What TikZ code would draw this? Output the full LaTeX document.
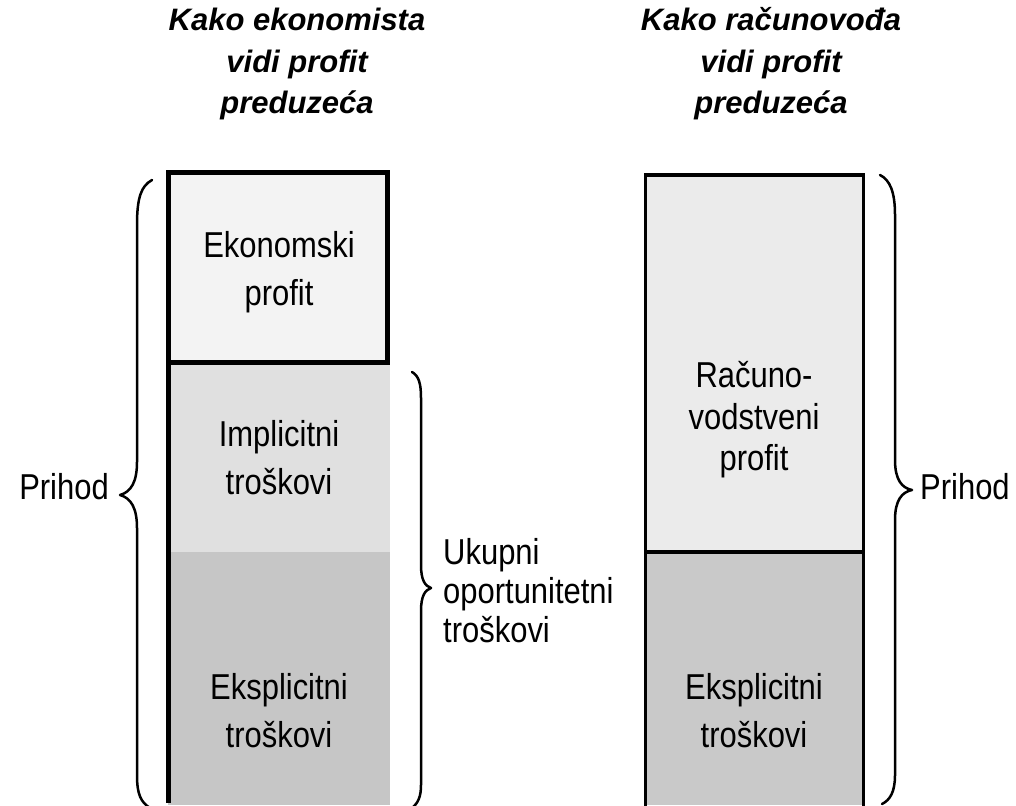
\documentclass[tikz,border=0pt]{standalone}
\usepackage{fontspec}
\setmainfont{Liberation Sans}
\newfontfamily\condf[FakeStretch=0.86]{Liberation Sans}
\definecolor{ekfill}{HTML}{F3F3F3}
\definecolor{imfill}{HTML}{E0E0E0}
\definecolor{exfill}{HTML}{C6C6C6}
\definecolor{rafill}{HTML}{EBEBEB}
\definecolor{rxfill}{HTML}{C9C9C9}
\tikzset{
  titletext/.style={font=\bfseries\itshape\fontsize{31}{41.5}\selectfont, align=center, inner sep=0pt},
  boxtext/.style={font=\condf\fontsize{36}{48}\selectfont, align=center, inner sep=0pt},
  sidetext/.style={font=\condf\fontsize{36}{39}\selectfont, align=left, inner sep=0pt},
  bracepath/.style={line width=2.5pt, line cap=round, line join=round}
}
\begin{document}
\begin{tikzpicture}[x=1pt,y=-1pt]
\useasboundingbox (0,0) rectangle (1016,805);
% titles
\node[titletext] (t1) at (297,64) {Kako ekonomista\\vidi profit\\preduzeća};
\node[titletext] (t2) at (771,64) {Kako računovođa\\vidi profit\\preduzeća};
% left column
\fill[imfill] (168,362) rectangle (390,552);
\fill[exfill] (168,552) rectangle (390,805);
\draw[line width=5pt] (168,362) -- (168,803);
\draw[line width=5pt, fill=ekfill] (168,173) rectangle (387,362);
% right column
\fill[rafill] (645,175) rectangle (863,552);
\fill[rxfill] (645,552) rectangle (863,805);
\draw[line width=3pt] (645,806) -- (645,175) -- (863,175) -- (863,806);
\draw[line width=4.5pt] (645,552) -- (863,552);
% box texts
\node[boxtext] (ek) at (279,272) {Ekonomski\\profit};
\node[boxtext] (im) at (279,458) {Implicitni\\troškovi};
\node[boxtext] (ex) at (279,711) {Eksplicitni\\troškovi};
\node[boxtext, font=\condf\fontsize{36}{41.5}\selectfont] (ra) at (754,420) {Računo-\\vodstveni\\profit};
\node[boxtext] (rx) at (754,711) {Eksplicitni\\troškovi};
% side labels
\node[sidetext] (p1) at (64,487) {Prihod};
\node[sidetext, anchor=west] (p2) at (920,487) {Prihod};
\node[sidetext, anchor=west] (uk) at (443,591) {Ukupni\\oportunitetni\\troškovi};
% braces
\draw[bracepath] (152,180) .. controls (141,186) and (137,198) .. (137,225) -- (137,462)
  .. controls (137,482) and (131,492) .. (120,495)
  .. controls (131,498) and (137,508) .. (137,528) -- (137,775)
  .. controls (137,795) and (141,802) .. (150,808);
\draw[bracepath] (412,372) .. controls (419,376) and (421,384) .. (421,398) -- (421,565)
  .. controls (421,580) and (425,586) .. (431,588)
  .. controls (425,590) and (421,596) .. (421,611) -- (421,785)
  .. controls (421,797) and (418,803) .. (412,808);
\draw[bracepath] (880,175) .. controls (890,180) and (895,192) .. (895,215) -- (895,460)
  .. controls (895,480) and (902,488) .. (912,490)
  .. controls (902,492) and (895,500) .. (895,520) -- (895,775)
  .. controls (895,792) and (890,800) .. (882,804);
\end{tikzpicture}
\end{document}
